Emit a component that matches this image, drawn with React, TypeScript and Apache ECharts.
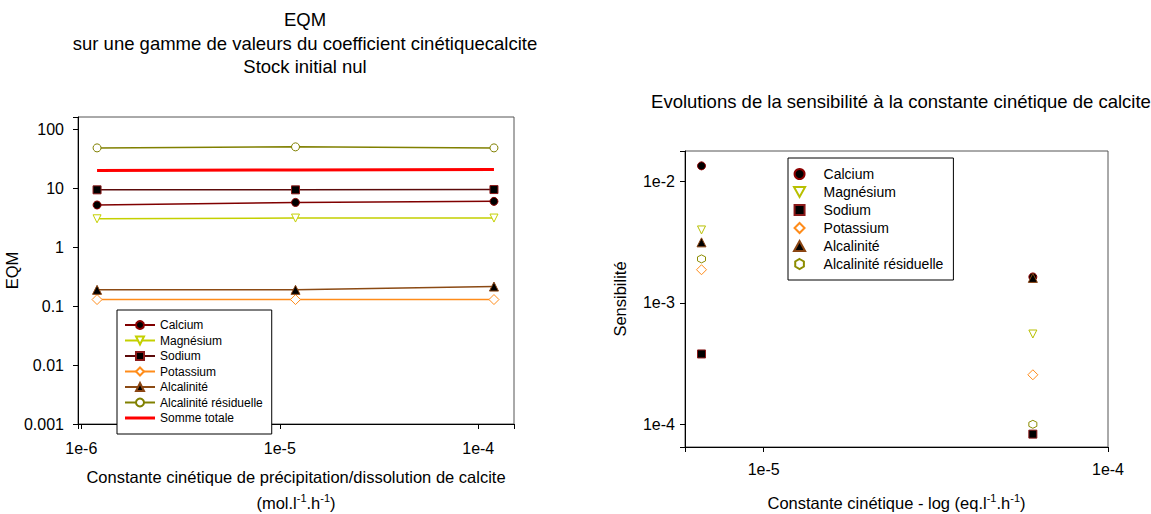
import React, { useEffect, useRef } from 'react';
import * as echarts from 'echarts';

const FONT = '"Liberation Sans", Arial, Helvetica, sans-serif';

// ---- Left chart: EQM vs kinetic coefficient ----
const eqmX = [1.2e-6, 1.2e-5, 1.2e-4];
const eqmCalcium = [5.25, 5.8, 6.05];
const eqmMagnesium = [3.06, 3.15, 3.15];
const eqmSodium = [9.5, 9.5, 9.6];
const eqmPotassium = [0.13, 0.13, 0.13];
const eqmAlcalinite = [0.19, 0.19, 0.216];
const eqmAlcRes = [49, 51, 49];
const eqmSomme = [20.3, 20.7, 21.1];

// ---- Right chart: sensitivity ----
const sensX = [6.6e-6, 6.05e-5];
const sensCalcium = [0.0135, 0.00164];
const sensMagnesium = [0.004, 0.000555];
const sensSodium = [0.00038, 0.000083];
const sensPotassium = [0.00188, 0.000256];
const sensAlcalinite = [0.00316, 0.00161];
const sensAlcRes = [0.00231, 0.0001];

const eqmNames = ['Calcium', 'Magnésium', 'Sodium', 'Potassium', 'Alcalinité', 'Alcalinité résiduelle', 'Somme totale'];
const sensNames = ['Calcium', 'Magnésium', 'Sodium', 'Potassium', 'Alcalinité', 'Alcalinité résiduelle'];

const TRI_DOWN = 'path://M0,0 L10,0 L5,9 Z';
const TRI_UP = 'path://M5,0 L10,9 L0,9 Z';
const RECT = 'path://M0,0 L10,0 L10,10 L0,10 Z';
const DIAMOND = 'path://M5,0 L10,5 L5,10 L0,5 Z';
const HEXAGON = 'path://M5,0 L9.33,2.5 L9.33,7.5 L5,10 L0.67,7.5 L0.67,2.5 Z';
const THICK_LINE = 'path://M0,0 L30,0 L30,3 L0,3 Z';

const isPow10 = (v: number) => {
  const e = Math.log10(v);
  return Math.abs(e - Math.round(e)) < 1e-6;
};
const expLabel = (v: number) => (isPow10(v) ? `1e${Math.round(Math.log10(v))}` : '');
const decLabel = (v: number) => (isPow10(v) ? String(Number(v.toPrecision(6))) : '');

const zip = (xs: number[], ys: number[]) => xs.map((x, i) => [x, ys[i]]);

const axisCommon = {
  axisLine: { show: true, lineStyle: { color: '#000', width: 1 } },
  axisTick: { show: true, inside: false, length: 5, lineStyle: { color: '#000' } },
  splitLine: { show: false },
  minorTick: { show: false },
};

export default function App() {
  const ref = useRef<HTMLDivElement>(null);

  useEffect(() => {
    if (!ref.current) return;
    const chart = echarts.init(ref.current, undefined, { renderer: 'svg' });

    const lineSeries = (
      name: string,
      ys: number[],
      color: string,
      symbol: string,
      fill: string,
      border: string,
      size = 8,
      width = 1.5
    ) => ({
      type: 'line',
      name,
      xAxisIndex: 0,
      yAxisIndex: 0,
      data: zip(eqmX, ys),
      symbol,
      symbolSize: size,
      showSymbol: symbol !== 'none',
      lineStyle: { color, width },
      itemStyle: { color: fill, borderColor: border, borderWidth: 1 },
      z: 3,
    });

    const scatterSeries = (
      name: string,
      ys: number[],
      symbol: string,
      fill: string,
      border: string,
      size = 8
    ) => ({
      type: 'scatter',
      name: 's_' + name,
      xAxisIndex: 1,
      yAxisIndex: 1,
      data: zip(sensX, ys),
      symbol,
      symbolSize: size,
      itemStyle: { color: fill, borderColor: border, borderWidth: 1, opacity: 1 },
      z: 3,
    });

    const NAME_FS = 16.5;
    const subRich = {
      a: { fontSize: NAME_FS, fontFamily: FONT, color: '#000', lineHeight: 26 },
      s: { fontSize: 11, fontFamily: FONT, color: '#000', lineHeight: 26, padding: [0, 0, 11, 0] },
    };
    const TICK_FS = 16;

    chart.setOption({
      animation: false,
      backgroundColor: '#fff',
      title: [
        {
          text: 'EQM\nsur une gamme de valeurs du coefficient cinétiquecalcite\nStock initial nul',
          left: 300,
          top: 3,
          textAlign: 'center',
          textStyle: { fontFamily: FONT, fontSize: 18.5, fontWeight: 'normal', color: '#000', lineHeight: 23.5 },
        },
        {
          text: 'Evolutions de la sensibilité à la constante cinétique de calcite',
          left: 896,
          top: 85,
          textAlign: 'center',
          textStyle: { fontFamily: FONT, fontSize: 18.5, fontWeight: 'normal', color: '#000', lineHeight: 22 },
        },
      ],
      grid: [
        {
          left: 78, top: 117, width: 436, height: 307,
          outerBoundsMode: 'none', containLabel: false,
          show: true, borderColor: '#555', borderWidth: 1, backgroundColor: 'transparent',
        },
        {
          left: 685, top: 151, width: 423, height: 296,
          outerBoundsMode: 'none', containLabel: false,
          show: true, borderColor: '#555', borderWidth: 1, backgroundColor: 'transparent',
        },
      ],
      xAxis: [
        {
          ...axisCommon,
          type: 'log',
          logBase: 10,
          gridIndex: 0,
          min: 0.962e-6,
          max: 1.514e-4,
          axisLabel: { formatter: expLabel, fontFamily: FONT, fontSize: TICK_FS, color: '#000', margin: 16 },
          name: '{a|Constante cinétique de précipitation/dissolution de calcite}\n{a|(mol.l}{s|-1}{a|.h}{s|-1}{a|)}',
          nameLocation: 'middle',
          nameGap: 40,
          nameTextStyle: { fontFamily: FONT, fontSize: NAME_FS, color: '#000', lineHeight: 26, rich: subRich },
        },
        {
          ...axisCommon,
          type: 'log',
          logBase: 10,
          gridIndex: 1,
          min: 5.91e-6,
          max: 1e-4,
          axisLabel: { formatter: expLabel, fontFamily: FONT, fontSize: TICK_FS, color: '#000', margin: 14 },
          name: '{a|Constante cinétique - log (eq.l}{s|-1}{a|.h}{s|-1}{a|)}',
          nameLocation: 'middle',
          nameGap: 43,
          nameTextStyle: { fontFamily: FONT, fontSize: NAME_FS, color: '#000', lineHeight: 26, rich: subRich },
        },
      ],
      yAxis: [
        {
          ...axisCommon,
          type: 'log',
          logBase: 10,
          gridIndex: 0,
          min: 0.001,
          max: 164,
          axisLabel: { formatter: decLabel, fontFamily: FONT, fontSize: TICK_FS, color: '#000', margin: 14 },
          name: 'EQM',
          nameLocation: 'middle',
          nameGap: 50,
          nameTextStyle: { fontFamily: FONT, fontSize: NAME_FS, color: '#000' },
        },
        {
          ...axisCommon,
          type: 'log',
          logBase: 10,
          gridIndex: 1,
          min: 6.5e-5,
          max: 0.0179,
          axisLabel: { formatter: expLabel, fontFamily: FONT, fontSize: TICK_FS, color: '#000', margin: 10 },
          name: 'Sensibilité',
          nameLocation: 'middle',
          nameGap: 57,
          nameTextStyle: { fontFamily: FONT, fontSize: NAME_FS, color: '#000' },
        },
      ],
      legend: [
        {
          data: eqmNames.map((n) =>
            n === 'Somme totale' ? { name: n, icon: THICK_LINE, itemStyle: { color: '#ff0000', borderWidth: 0 } } : n
          ),
          left: 117,
          top: 310,
          orient: 'vertical',
          padding: [9, 9, 10, 7],
          itemWidth: 30,
          itemHeight: 10,
          itemGap: 3.5,
          borderColor: '#000',
          borderWidth: 1,
          backgroundColor: '#fff',
          selectedMode: false,
          textStyle: { fontFamily: FONT, fontSize: 12, color: '#000' },
          z: 10,
        },
        {
          data: sensNames.map((n) => 's_' + n),
          formatter: (n: string) => n.replace(/^s_/, ''),
          left: 788,
          top: 158,
          orient: 'vertical',
          padding: [9, 10, 9, 5],
          itemWidth: 38,
          itemHeight: 10,
          itemGap: 4,
          borderColor: '#000',
          borderWidth: 1,
          backgroundColor: '#fff',
          selectedMode: false,
          symbolKeepAspect: true,
          textStyle: { fontFamily: FONT, fontSize: 14, color: '#000' },
          z: 10,
        },
      ],
      series: [
        lineSeries('Calcium', eqmCalcium, '#800000', 'circle', '#000', '#8b0000'),
        lineSeries('Magnésium', eqmMagnesium, '#c4d000', TRI_DOWN, '#fff', '#c4d000'),
        lineSeries('Sodium', eqmSodium, '#5c0a0a', 'rect', '#000', '#8b1a1a'),
        lineSeries('Potassium', eqmPotassium, '#ff8c1a', 'diamond', '#fff', '#ff8c1a', 10),
        lineSeries('Alcalinité', eqmAlcalinite, '#8b4a14', 'triangle', '#000', '#8b4513', 9),
        lineSeries('Alcalinité résiduelle', eqmAlcRes, '#808000', 'circle', '#fff', '#808000'),
        lineSeries('Somme totale', eqmSomme, '#ff0000', 'none', '#ff0000', '#ff0000', 0, 3),
        scatterSeries('Calcium', sensCalcium, 'circle', '#000', '#8b0000'),
        scatterSeries('Magnésium', sensMagnesium, TRI_DOWN, '#fff', '#b8c000'),
        scatterSeries('Sodium', sensSodium, RECT, '#000', '#8b1a1a'),
        scatterSeries('Potassium', sensPotassium, DIAMOND, '#fff', '#ff8c1a', 10),
        scatterSeries('Alcalinité', sensAlcalinite, TRI_UP, '#000', '#8b4513', 9),
        scatterSeries('Alcalinité résiduelle', sensAlcRes, HEXAGON, '#fff', '#8c8c00', 8),
      ],
    });

    return () => {
      chart.dispose();
    };
  }, []);

  return (
    <div
      ref={ref}
      style={{ position: 'fixed', left: 0, top: 0, width: 1151, height: 514, background: '#fff' }}
    />
  );
}
